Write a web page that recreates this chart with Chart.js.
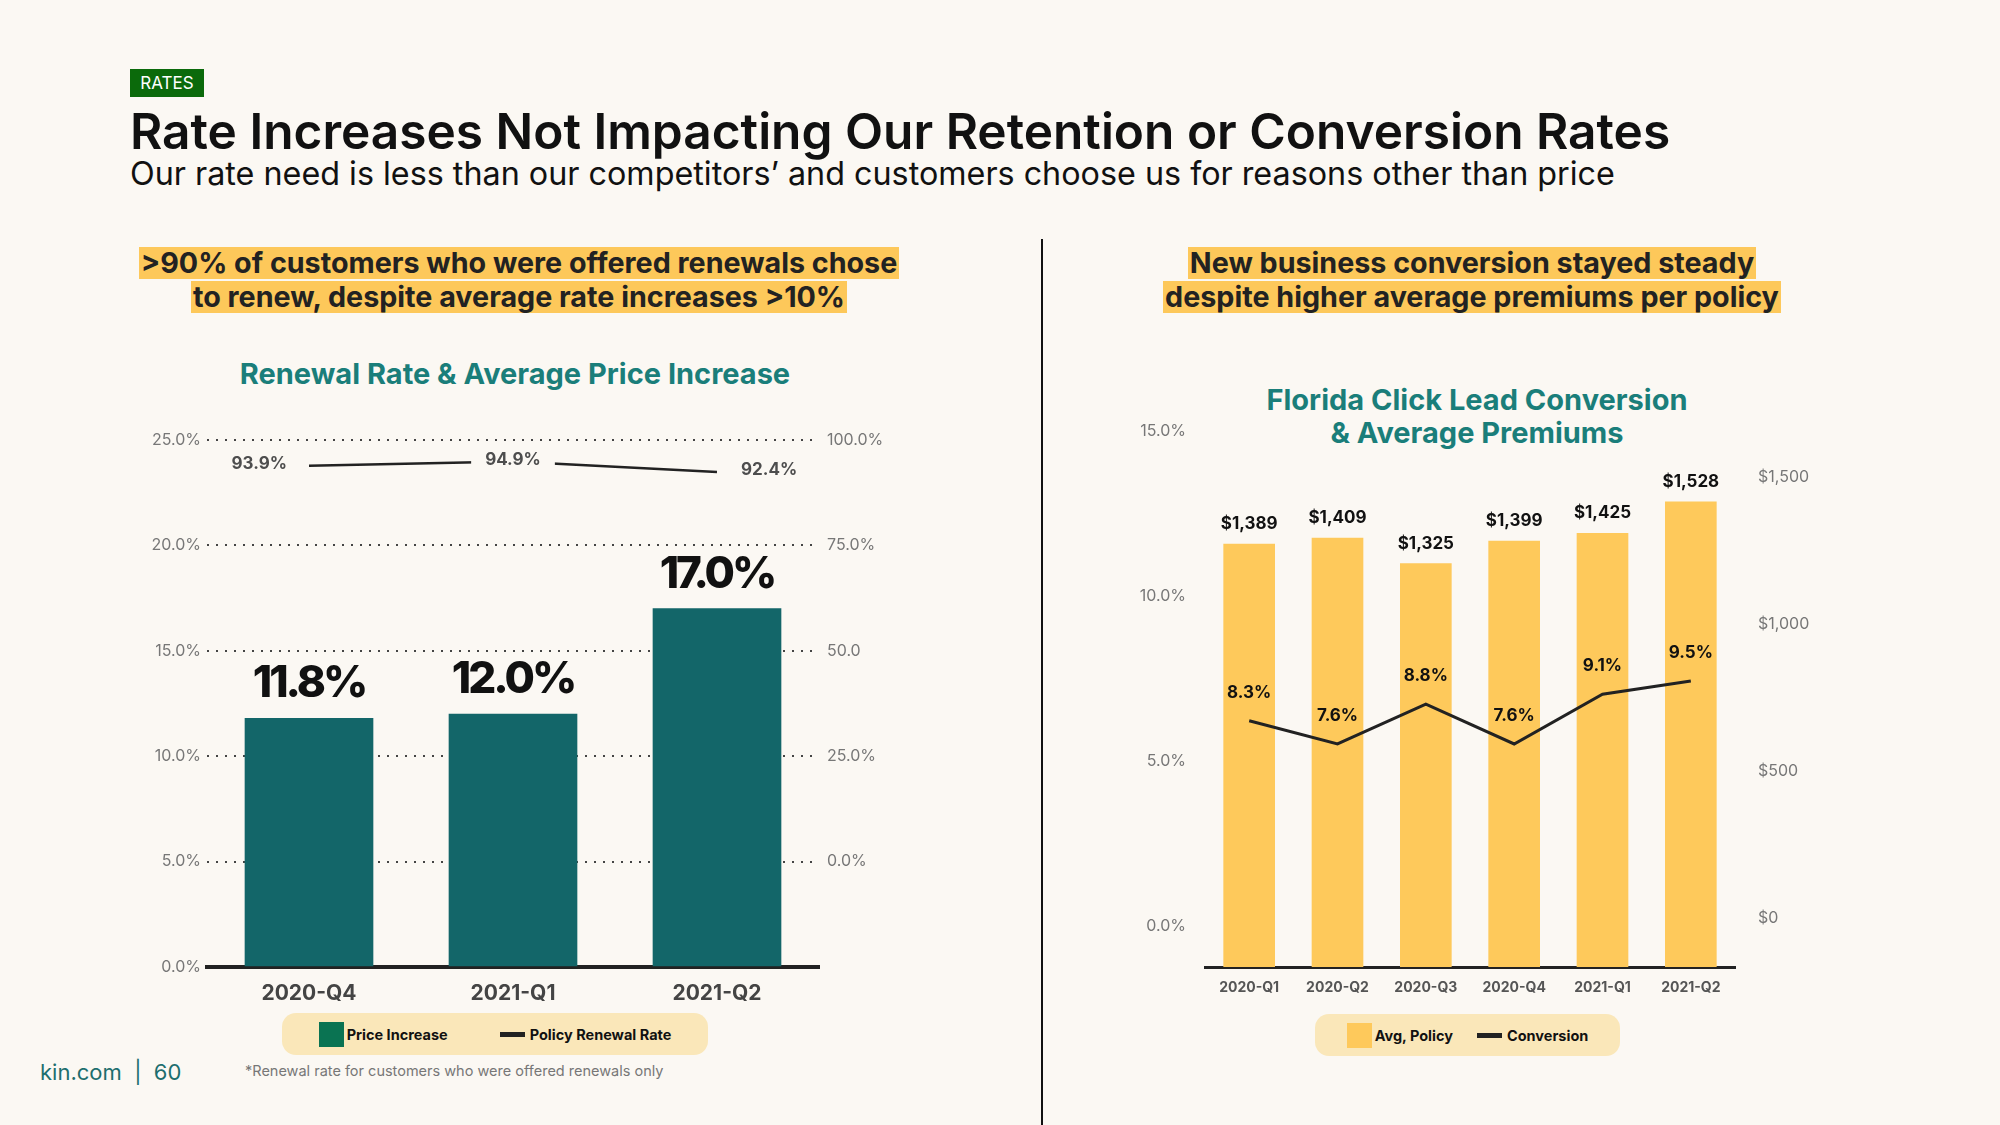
<!DOCTYPE html>
<html lang="en">
<head>
<meta charset="UTF-8">
<title>Rates</title>
<script src="https://cdn.jsdelivr.net/npm/chart.js@4"></script>
<style>
  body { margin: 0; background: #fbf8f3; font-family: Inter, 'Noto Sans', sans-serif; color: #1f1f1f; }
  .page { position: relative; width: 2000px; height: 1125px; overflow: hidden; }
  .abs { position: absolute; }
  .tag { left: 130px; top: 69px; width: 74px; height: 28px; line-height: 28px; background: #0b6a0b; color: #fff; font-size: 17px; text-align: center; }
  h1 { margin: 0; left: 130px; top: 101px; font-size: 49.6px; line-height: 60px; font-weight: 600; color: #111; white-space: nowrap; }
  .sub { left: 130px; top: 155px; font-size: 32.3px; line-height: 38px; color: #111; white-space: nowrap; }
  .divider { left: 1041px; top: 239px; width: 2px; height: 886px; background: #111; }
  .hl { width: 900px; font-size: 28.7px; font-weight: 700; color: #222; }
  .hl span { display: table; margin: 0 auto 2px; height: 32px; line-height: 32px; background: #fdc85a; padding: 0 2px; white-space: nowrap; }
  .ctitle { width: 700px; text-align: center; font-size: 29px; line-height: 33px; font-weight: 700; color: #1a7e7a; }
  canvas { position: absolute; }
  .legend { display: flex; align-items: center; justify-content: center; height: 42px; border-radius: 14px; background: #fae7b9; font-size: 14.5px; font-weight: 700; color: #111; white-space: nowrap; }
  .legend .item { display: flex; align-items: center; margin: 0 26px; }
  #floridaLegend .item { margin: 0 12px; }
  .legend .box { width: 25px; height: 25px; margin-right: 3px; }
  .legend .dash { width: 25px; height: 5px; margin-right: 5px; }
  .foot { left: 40px; top: 1058px; font-size: 22px; line-height: 28px; color: #1d6e6e; white-space: pre; }
  .note { left: 245px; top: 1062px; font-size: 14.5px; line-height: 18px; color: #777; }
</style>
</head>
<body>
<div class="page">
  <div class="abs tag">RATES</div>
  <h1 class="abs">Rate Increases Not Impacting Our Retention or Conversion Rates</h1>
  <div class="abs sub">Our rate need is less than our competitors’ and customers choose us for reasons other than price</div>
  <div class="abs divider"></div>

  <div class="abs hl" style="left: 69px; top: 247px;">
    <span>&gt;90% of customers who were offered renewals chose</span>
    <span>to renew, despite average rate increases &gt;10%</span>
  </div>
  <div class="abs hl" style="left: 1022px; top: 247px;">
    <span>New business conversion stayed steady</span>
    <span>despite higher average premiums per policy</span>
  </div>

  <div class="abs ctitle" style="left: 165px; top: 357px;">Renewal Rate &amp; Average Price Increase</div>
  <div class="abs ctitle" style="left: 1127px; top: 383px;">Florida Click Lead Conversion<br>&amp; Average Premiums</div>

  <canvas id="renewalChart" width="800" height="620" style="left: 130px; top: 400px;"></canvas>
  <canvas id="floridaChart" width="800" height="640" style="left: 1100px; top: 380px;"></canvas>

  <div class="abs legend" id="renewalLegend" style="left: 282px; top: 1013px; width: 426px;"></div>
  <div class="abs legend" id="floridaLegend" style="left: 1315px; top: 1014px; width: 305px;"></div>

  <div class="abs foot">kin.com  |  60</div>
  <div class="abs note">*Renewal rate for customers who were offered renewals only</div>
</div>

<script>
  // left chart
  const renewalQuarters = ['2020-Q4', '2021-Q1', '2021-Q2'];
  const priceIncrease = [11.8, 12.0, 17.0];
  const renewalRate = [93.9, 94.9, 92.4];
  const priceTicks = [0, 5, 10, 15, 20, 25];
  const renewalTicks = [0, 25, 50, 75, 100];
  const renewalTickLabels = ['0.0%', '25.0%', '50.0', '75.0%', '100.0%'];

  // right chart
  const floridaQuarters = ['2020-Q1', '2020-Q2', '2020-Q3', '2020-Q4', '2021-Q1', '2021-Q2'];
  const avgPolicy = [1389, 1409, 1325, 1399, 1425, 1528];
  const conversion = [8.3, 7.6, 8.8, 7.6, 9.1, 9.5];
  const conversionTicks = [0, 5, 10, 15];
  const premiumTicks = [0, 500, 1000, 1500];

  const BG = '#fbf8f3';
  Chart.defaults.font.family = "Inter, 'Noto Sans', sans-serif";

  function montarLegenda(chart, el) {
    let html = '';
    chart.data.datasets.forEach(ds => {
      const isLine = ds.type === 'line';
      const cor = isLine ? ds.borderColor : ds.legendColor || ds.backgroundColor;
      html += `<div class="item"><div class="${isLine ? 'dash' : 'box'}" style="background:${cor}"></div>${ds.label}</div>`;
    });
    el.innerHTML = html;
  }

  const renewalLabels = {
    id: 'renewalLabels',
    afterDatasetsDraw(chart) {
      const ctx = chart.ctx;
      const bars = chart.getDatasetMeta(0).data;
      const points = chart.getDatasetMeta(1).data;
      ctx.save();
      ctx.textAlign = 'center';
      ctx.textBaseline = 'middle';
      ctx.fillStyle = '#111';
      ctx.font = "800 44px Inter, sans-serif";
      ctx.letterSpacing = '-3px';
      bars.forEach((bar, i) => ctx.fillText(priceIncrease[i].toFixed(1) + '%', bar.x, bar.y - 34));
      ctx.letterSpacing = '0px';
      ctx.font = "bold 17px Inter, sans-serif";
      points.forEach((pt, i) => {
        const txt = renewalRate[i].toFixed(1) + '%';
        const w = ctx.measureText(txt).width;
        let x = pt.x;
        if (i === 0) x = pt.x - 22 - w / 2;
        else if (i === points.length - 1) x = pt.x + 24 + w / 2;
        else {
          ctx.fillStyle = BG;
          ctx.fillRect(x - w / 2 - 14, pt.y - 12, w + 28, 24);
        }
        ctx.fillStyle = '#4d4d4d';
        ctx.fillText(txt, x, pt.y - 2);
      });
      ctx.restore();
    }
  };

  const floridaLabels = {
    id: 'floridaLabels',
    afterDatasetsDraw(chart) {
      const ctx = chart.ctx;
      const bars = chart.getDatasetMeta(0).data;
      const points = chart.getDatasetMeta(1).data;
      ctx.save();
      ctx.textAlign = 'center';
      ctx.textBaseline = 'middle';
      ctx.fillStyle = '#111';
      ctx.font = "bold 17px Inter, sans-serif";
      bars.forEach((bar, i) => ctx.fillText('$' + avgPolicy[i].toLocaleString('en-US'), bar.x, bar.y - 20));
      points.forEach((pt, i) => ctx.fillText(conversion[i].toFixed(1) + '%', pt.x, pt.y - 28));
      ctx.restore();
    }
  };

  const renewalChart = new Chart(document.getElementById('renewalChart'), {
    type: 'bar',
    data: {
      labels: renewalQuarters,
      datasets: [
        {
          label: 'Price Increase',
          data: priceIncrease,
          yAxisID: 'y',
          backgroundColor: '#136669',
          legendColor: '#0a7352',
          barThickness: 128,
          order: 1
        },
        {
          type: 'line',
          label: 'Policy Renewal Rate',
          data: renewalRate,
          yAxisID: 'y2',
          borderColor: '#222',
          borderWidth: 2.5,
          pointRadius: 0,
          tension: 0,
          order: 0
        }
      ]
    },
    options: {
      responsive: false,
      animation: false,
      layout: { padding: { top: 40 } },
      plugins: { legend: { display: false }, tooltip: { enabled: false } },
      scales: {
        x: {
          grid: { display: false },
          border: { display: true, color: '#222', width: 4 },
          ticks: { color: '#444', padding: 6, font: { size: 21, weight: 'bold' } },
          afterFit: s => { s.height = 53; }
        },
        y: {
          position: 'left',
          min: 0,
          max: 25,
          afterBuildTicks: s => { s.ticks = priceTicks.map(v => ({ value: v })); },
          grid: {
            drawTicks: false,
            lineWidth: 2,
            color: c => c.tick && c.tick.value === 0 ? 'rgba(0,0,0,0)' : '#444'
          },
          border: { display: false, dash: [2, 7] },
          ticks: { color: '#777', padding: 6, font: { size: 16 }, callback: v => v.toFixed(1) + '%' },
          afterFit: s => { s.width = 77; }
        },
        y2: {
          position: 'right',
          min: -25,
          max: 100,
          afterBuildTicks: s => { s.ticks = renewalTicks.map(v => ({ value: v })); },
          grid: { display: false, drawTicks: false },
          border: { display: false },
          ticks: { color: '#777', padding: 8, font: { size: 16 }, callback: (v, i) => renewalTickLabels[i] },
          afterFit: s => { s.width = 111; }
        }
      }
    },
    plugins: [renewalLabels]
  });

  const floridaChart = new Chart(document.getElementById('floridaChart'), {
    type: 'bar',
    data: {
      labels: floridaQuarters,
      datasets: [
        {
          label: 'Avg, Policy',
          data: avgPolicy,
          yAxisID: 'yAvg',
          backgroundColor: '#fec95b',
          barThickness: 51,
          order: 1
        },
        {
          type: 'line',
          label: 'Conversion',
          data: conversion,
          yAxisID: 'yConv',
          borderColor: '#222',
          borderWidth: 3,
          pointRadius: 0,
          tension: 0,
          order: 0
        }
      ]
    },
    options: {
      responsive: false,
      animation: false,
      layout: { padding: { top: 40 } },
      plugins: { legend: { display: false }, tooltip: { enabled: false } },
      scales: {
        x: {
          grid: { display: false },
          border: { display: true, color: '#222', width: 3 },
          ticks: { color: '#555', padding: 4, font: { size: 14, weight: 'bold' } },
          afterFit: s => { s.height = 53; }
        },
        yPct: {
          position: 'left',
          min: -1.253,
          max: 15.343,
          afterBuildTicks: s => { s.ticks = conversionTicks.map(v => ({ value: v })); },
          grid: { display: false, drawTicks: false },
          border: { display: false },
          ticks: { color: '#777', padding: 19, font: { size: 16 }, callback: v => v.toFixed(1) + '%' },
          afterFit: s => { s.width = 105; }
        },
        yDollar: {
          position: 'right',
          min: -165,
          max: 1694,
          afterBuildTicks: s => { s.ticks = premiumTicks.map(v => ({ value: v })); },
          grid: { display: false, drawTicks: false },
          border: { display: false },
          ticks: { color: '#777', padding: 23, font: { size: 16 }, callback: v => '$' + v.toLocaleString('en-US') },
          afterFit: s => { s.width = 165; }
        },
        yAvg: { display: false, min: 0, max: 1797 },
        yConv: { display: false, min: 0.875, max: 17.37 }
      }
    },
    plugins: [floridaLabels]
  });

  montarLegenda(renewalChart, document.getElementById('renewalLegend'));
  montarLegenda(floridaChart, document.getElementById('floridaLegend'));
</script>
</body>
</html>
